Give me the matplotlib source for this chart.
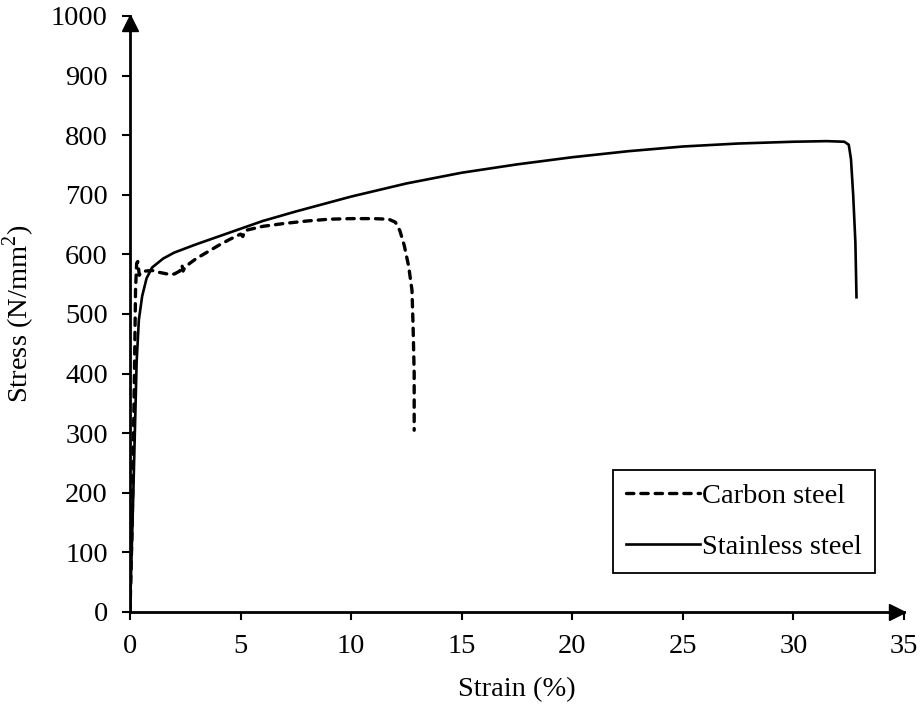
import matplotlib
matplotlib.use("Agg")
import matplotlib.pyplot as plt
from matplotlib.transforms import offset_copy

plt.rcParams['font.family'] = ['Liberation Serif', 'DejaVu Serif']
plt.rcParams['mathtext.fontset'] = 'custom'
plt.rcParams['mathtext.rm'] = 'Liberation Serif'

# carbon steel stress-strain
carbon_strain = [0, 0.1, 0.2, 0.25, 0.3, 0.35, 0.42, 0.5, 0.7, 1.0, 1.3, 1.7, 2.0, 2.25,
                 2.35, 2.4, 2.45, 2.7, 3.0, 3.5, 4.0, 4.5, 5.0, 5.1, 5.2, 6.0, 7.0, 8.0,
                 9.0, 10.0, 11.0, 11.7, 12.0, 12.2, 12.4, 12.6, 12.75, 12.8, 12.85, 12.85]
carbon_stress = [0, 150, 400, 540, 585, 588, 565, 570, 572, 573, 570, 567, 567, 572,
                 582, 572, 576, 585, 593, 604, 615, 625, 634, 630, 640, 647, 652, 656,
                 659, 660, 660, 659, 654, 640, 615, 580, 540, 480, 400, 305]

# stainless steel stress-strain
stainless_strain = [0, 0.15, 0.3, 0.4, 0.55, 0.75, 1.0, 1.5, 2.0, 3.0, 4.0, 5.0, 6.0, 7.5,
                    10.0, 12.5, 15.0, 17.5, 20.0, 22.5, 25.0, 27.5, 30.0, 31.5, 32.3,
                    32.5, 32.6, 32.7, 32.8, 32.85]
stainless_stress = [0, 200, 420, 490, 530, 560, 578, 593, 603, 617, 630, 643, 656, 672,
                    697, 719, 737, 751, 763, 773, 781, 786, 789, 790, 789,
                    784, 760, 700, 620, 528]

fs = 20.5

fig = plt.figure(figsize=(9.24, 7.07), dpi=100)
ax = fig.add_axes([0.1407, 0.1344, 0.8377, 0.843])

ax.plot(carbon_strain, carbon_stress, color='k', lw=2.4, linestyle=(0, (2.2, 2.1)),
        dash_capstyle='round', label='Carbon steel')
ax.plot(stainless_strain, stainless_stress, color='k', lw=1.9, label='Stainless steel')

ax.set_xlim(0, 35)
ax.set_ylim(0, 1000)
ax.set_xticks(range(0, 36, 5))
ax.set_yticks(range(0, 1001, 100))
ax.tick_params(labelsize=fs, direction='out', length=6, width=1.5, pad=10, colors='k')
ax.set_xlabel('Strain (%)', fontsize=fs, labelpad=13)
ax.set_ylabel('Stress (N/mm$^2$)', fontsize=fs, labelpad=10)

for s in ['top', 'right']:
    ax.spines[s].set_visible(False)
for s in ['left', 'bottom']:
    ax.spines[s].set_linewidth(2)

# arrow heads on the axes, tips at the ends
ax.plot(1, 0, '>k', ms=11, clip_on=False,
        transform=offset_copy(ax.transAxes, fig=fig, x=-5, y=0, units='points'))
ax.plot(0, 1, '^k', ms=11, clip_on=False,
        transform=offset_copy(ax.transAxes, fig=fig, x=0, y=-5, units='points'))

leg = ax.legend(loc='lower right', bbox_to_anchor=(0.9625, 0.065), borderaxespad=0,
                fontsize=fs, frameon=True, fancybox=False, edgecolor='k',
                handlelength=2.6, handletextpad=0.1, labelspacing=0.9,
                borderpad=0.45, framealpha=1)
leg.get_frame().set_linewidth(1.3)

fig.savefig('out.png', dpi=100)
